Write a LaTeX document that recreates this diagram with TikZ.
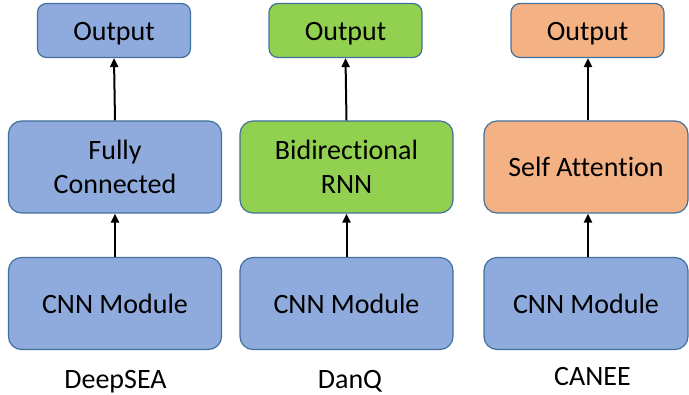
\documentclass[tikz,border=0pt]{standalone}
\usepackage{fontspec}
\setmainfont{Carlito}[Ligatures=NoCommon]
\usetikzlibrary{arrows.meta}

\definecolor{boxblue}{HTML}{8FAADC}
\definecolor{boxgreen}{HTML}{92D050}
\definecolor{boxorange}{HTML}{F4B183}
\definecolor{edgeblue}{HTML}{41719C}

\tikzset{
  block/.style={draw=edgeblue, line width=1.2pt, rounded corners=13pt,
    inner sep=0pt, align=center,
    font=\fontsize{28}{34}\selectfont},
  oneline/.style={text height=26pt, text depth=6pt},
  outbox/.style={block, oneline, rounded corners=9pt,
    minimum width=153pt, minimum height=54pt},
  midbox/.style={block, minimum width=213pt, minimum height=92pt},
  basebox/.style={block, oneline, fill=boxblue,
    minimum width=213pt, minimum height=92pt},
  caption/.style={anchor=base, inner sep=0pt,
    font=\fontsize{28}{34}\selectfont},
  arr/.style={-{Triangle[length=9pt,width=8pt]}, line width=2pt, black}
}

\begin{document}
\begin{tikzpicture}[x=1pt, y=-1pt]
  \useasboundingbox (0,0) rectangle (689,395);

  % DeepSEA column
  \node[outbox, fill=boxblue] (out1) at (114,30.5) {Output};
  \node[midbox, fill=boxblue] (fc) at (115,167) {Fully\\Connected};
  \node[basebox] (cnn1) at (115,303.5) {CNN Module};
  \node[caption] (lab1) at (115.5,388.5) {DeepSEA};

  % DanQ column
  \node[outbox, fill=boxgreen] (out2) at (345.5,30.5) {Output};
  \node[midbox, fill=boxgreen] (rnn) at (346.5,167) {Bidirectional\\RNN};
  \node[basebox] (cnn2) at (346.5,303.5) {CNN Module};
  \node[caption] (lab2) at (350,388.5) {DanQ};

  % CANEE column
  \node[outbox, fill=boxorange] (out3) at (587.5,30.5) {Output};
  \node[midbox, oneline, fill=boxorange, minimum width=204pt] (att) at (586,167) {Self Attention};
  \node[basebox, minimum width=204pt] (cnn3) at (586,303.5) {CNN Module};
  \node[caption] (lab3) at (592.5,386) {CANEE};

  % data flow
  \draw[arr] (cnn1.north) -- (fc.south);
  \draw[arr] (fc.north) -- (out1.south);
  \draw[arr] (cnn2.north) -- (rnn.south);
  \draw[arr] (rnn.north) -- (out2.south);
  \draw[arr] ([xshift=2pt]cnn3.north) -- ([xshift=2pt]att.south);
  \draw[arr] ([xshift=2pt]att.north) -- ([xshift=0.5pt]out3.south);
\end{tikzpicture}
\end{document}
